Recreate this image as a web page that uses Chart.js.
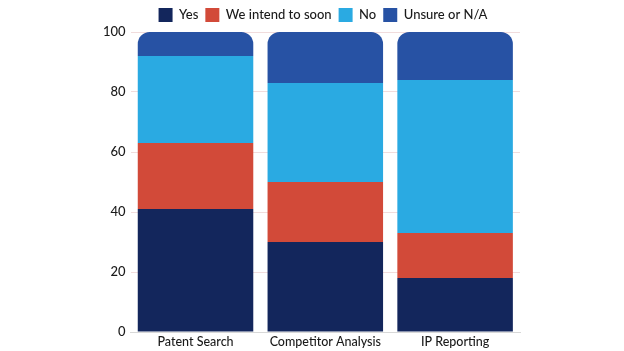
<!DOCTYPE html>
<html>
<head>
<meta charset="utf-8">
<script src="https://cdn.jsdelivr.net/npm/chart.js@4"></script>
<style>
  html, body { margin: 0; padding: 0; background: #fff; }
  #wrap { width: 624px; height: 351px; }
</style>
</head>
<body>
<div id="wrap"><canvas id="chart"></canvas></div>
<script>
const categories = ["Patent Search", "Competitor Analysis", "IP Reporting"];
const yes = [41, 30, 18];
const intendSoon = [22, 20, 15];
const no = [29, 33, 51];
const unsure = [8, 17, 16];
const yTicks = [0, 20, 40, 60, 80, 100];

Chart.defaults.font.family = "Lato, 'Open Sans', sans-serif";
Chart.defaults.color = "#1a1a1a";

// nudge the legend a bit right, the original centres it on the page, not the plot
const legendShift = {
  id: "legendShift",
  afterLayout(chart) {
    if (chart.legend) { chart.legend.left += 14; chart.legend.right += 14; }
  }
};

new Chart(document.getElementById("chart"), {
  type: "bar",
  data: {
    labels: categories,
    datasets: [
      { label: "Yes", data: yes, backgroundColor: "#13265c" },
      { label: "We intend to soon", data: intendSoon, backgroundColor: "#d24a39" },
      { label: "No", data: no, backgroundColor: "#2aaae2" },
      { label: "Unsure or N/A", data: unsure, backgroundColor: "#2752a4",
        borderRadius: { topLeft: 12, topRight: 12 }, borderSkipped: false }
    ]
  },
  options: {
    responsive: true,
    maintainAspectRatio: false,
    animation: false,
    barPercentage: 0.89,
    categoryPercentage: 1,
    layout: { padding: { left: 98, right: 104, top: 1, bottom: 0 } },
    plugins: {
      legend: {
        position: "top",
        labels: {
          boxWidth: 14, boxHeight: 14, padding: 7,
          font: { size: 13, weight: "500" }
        }
      },
      tooltip: { enabled: false }
    },
    scales: {
      x: {
        stacked: true,
        grid: { display: false, drawTicks: false },
        border: { color: "#d8d8d8" },
        ticks: { font: { size: 12.5, weight: "500" }, padding: 2 }
      },
      y: {
        stacked: true,
        min: 0,
        max: 100,
        afterBuildTicks: (axis) => { axis.ticks = yTicks.map(v => ({ value: v })); },
        grid: { color: "rgba(235,205,205,0.7)", drawTicks: false },
        border: { display: false },
        ticks: { font: { size: 13, weight: "500" }, padding: 5 }
      }
    }
  },
  plugins: [legendShift]
});
</script>
</body>
</html>
